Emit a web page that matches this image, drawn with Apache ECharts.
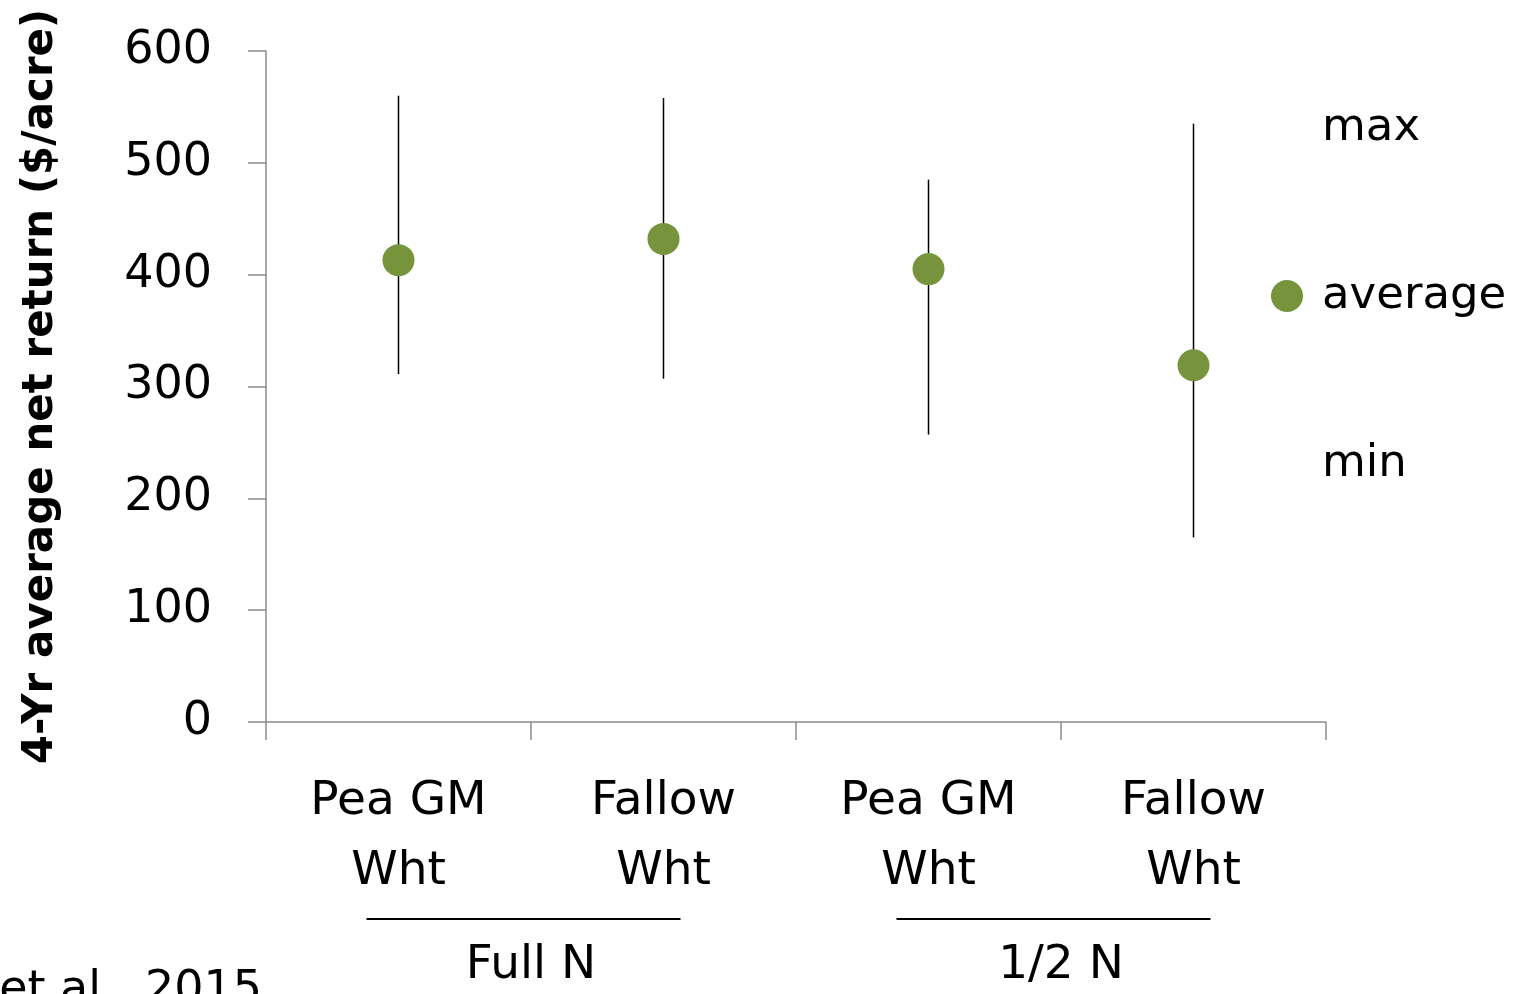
<!DOCTYPE html>
<html><head><meta charset="utf-8">
<script src="https://cdn.jsdelivr.net/npm/echarts@6/dist/echarts.min.js"></script>
<style>html,body{margin:0;padding:0;background:#fff}#c{width:1518px;height:994px}</style>
</head><body><div id="c"></div>
<script>
const categories = ['Pea GM\nWht', 'Fallow\nWht', 'Pea GM\nWht', 'Fallow\nWht'];
const avgValues = [413, 432, 405, 319];
const maxValues = [560, 558, 485, 535];
const minValues = [311, 307, 257, 165];
const yTicks = [0, 100, 200, 300, 400, 500, 600];
const groups = [{name: 'Full N', from: 0, to: 1}, {name: '1/2 N', from: 2, to: 3}];

const FONT = '"DejaVu Sans", sans-serif';
const GREEN = '#77933C';
const chart = echarts.init(document.getElementById('c'));

function segRender(lowArr, highArr) {
  return function (params, api) {
    const i = api.value(0);
    const p1 = api.coord([i, lowArr[i]]);
    const p2 = api.coord([i, highArr[i]]);
    return {type: 'line', shape: {x1: p1[0], y1: p1[1], x2: p2[0], y2: p2[1]},
      style: {stroke: '#000', lineWidth: 1.5}};
  };
}

const option = {
  animation: false,
  grid: {left: 266, right: 192, top: 51, bottom: 272, containLabel: false, outerBoundsMode: 'none'},
  xAxis: {
    type: 'category', data: categories, boundaryGap: true,
    axisLine: {lineStyle: {color: '#8c8c8c', width: 1.5}},
    axisTick: {show: true, length: 18, lineStyle: {color: '#8c8c8c', width: 1.5}},
    axisLabel: {fontFamily: FONT, fontSize: 47, color: '#000', lineHeight: 70, margin: 45, interval: 0}
  },
  yAxis: {
    type: 'value', min: yTicks[0], max: yTicks[yTicks.length - 1], interval: 100,
    name: '4-Yr average net return ($/acre)', nameLocation: 'middle', nameGap: 204,
    nameTextStyle: {fontFamily: FONT, fontSize: 42, fontWeight: 'bold', color: '#000'},
    axisLine: {show: true, lineStyle: {color: '#8c8c8c', width: 1.5}},
    axisTick: {show: true, length: 18, lineStyle: {color: '#8c8c8c', width: 1.5}},
    splitLine: {show: false},
    axisLabel: {fontFamily: FONT, fontSize: 46, color: '#000', margin: 54, padding: [6, 0, 0, 0]}
  },
  legend: {
    orient: 'vertical', left: 1252, top: 97, itemWidth: 60, itemHeight: 32, itemGap: 116,
    textStyle: {fontFamily: FONT, fontSize: 45, color: '#000', lineHeight: 52},
    data: [
      {name: 'max', icon: 'rect', itemStyle: {opacity: 0}},
      {name: 'average', icon: 'circle'},
      {name: 'min', icon: 'rect', itemStyle: {opacity: 0}}
    ]
  },
  series: [
    {name: 'max', type: 'custom', renderItem: segRender(avgValues, maxValues),
      data: categories.map((c, i) => [i, maxValues[i]]), itemStyle: {color: '#000'}, z: 1},
    {name: 'min', type: 'custom', renderItem: segRender(minValues, avgValues),
      data: categories.map((c, i) => [i, minValues[i]]), itemStyle: {color: '#000'}, z: 1},
    {name: 'average', type: 'scatter', data: avgValues, symbol: 'circle', symbolSize: 32,
      itemStyle: {color: GREEN, opacity: 1}, z: 3}
  ]
};
chart.setOption(option);

const graphics = [];
groups.forEach(g => {
  const a = chart.convertToPixel({xAxisIndex: 0}, g.from);
  const b = chart.convertToPixel({xAxisIndex: 0}, g.to);
  const x1 = a - 32, x2 = b + 17;
  graphics.push({type: 'line', shape: {x1: x1, y1: 919, x2: x2, y2: 919}, style: {stroke: '#000', lineWidth: 2}});
  graphics.push({type: 'text', x: (a + b) / 2, y: 966,
    style: {text: g.name, font: '47px ' + FONT, fill: '#000', align: 'center', verticalAlign: 'middle'}});
});
graphics.push({type: 'text', x: 262, y: 968,
  style: {text: 'et al., 2015', font: '46px ' + FONT, fill: '#000', align: 'right', verticalAlign: 'top'}});
chart.setOption({graphic: graphics});
</script></body></html>
